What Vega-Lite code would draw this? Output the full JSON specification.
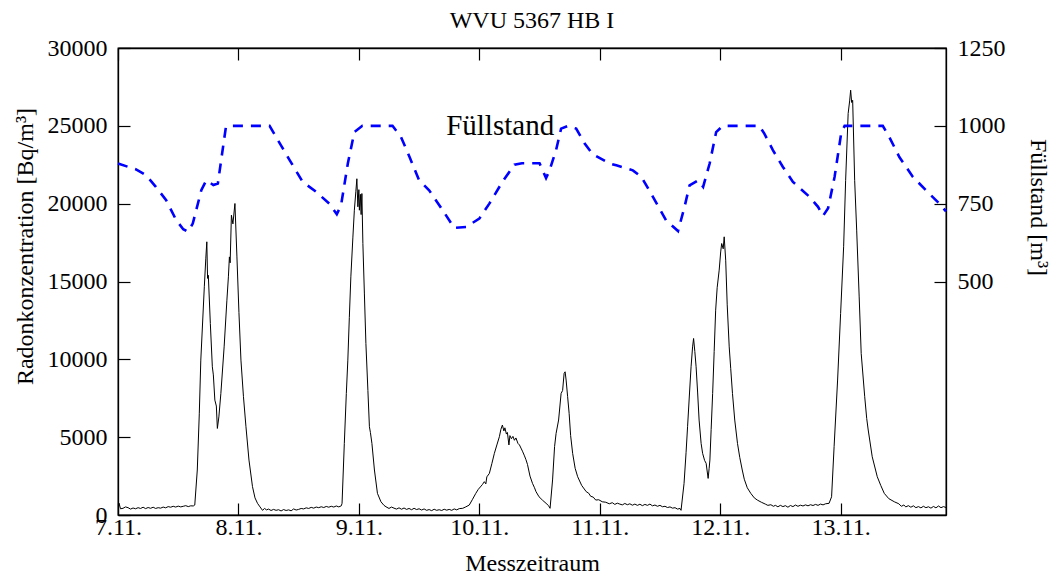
{
  "$schema": "https://vega.github.io/schema/vega-lite/v6.json",
  "width": 828,
  "height": 467,
  "autosize": "none",
  "padding": {"left": 118, "top": 48, "right": 111, "bottom": 64},
  "background": "white",
  "title": {"text": "WVU 5367 HB I", "font": "Liberation Serif", "fontSize": 24, "fontWeight": "normal", "color": "black", "offset": 3, "anchor": "middle"},
  "config": {
    "font": "Liberation Serif",
    "view": {"stroke": "black", "strokeWidth": 1.3},
    "axis": {
      "grid": false,
      "domainColor": "black",
      "domainWidth": 1.3,
      "tickColor": "black",
      "tickWidth": 1.2,
      "tickSize": -12,
      "labelFont": "Liberation Serif",
      "labelFontSize": 24,
      "labelColor": "black",
      "titleFont": "Liberation Serif",
      "titleFontSize": 24,
      "titleFontWeight": "normal",
      "titleColor": "black",
      "labelFlush": false
    }
  },
  "datasets": {
    "radon": [
      {"t": 0, "radon": 250}, {"t": 0.2, "radon": 760}, {"t": 0.5, "radon": 400}, {"t": 1, "radon": 430}, {"t": 1.5, "radon": 520}, {"t": 2, "radon": 470}, {"t": 2.5, "radon": 380}, {"t": 3, "radon": 450}, {"t": 3.5, "radon": 400}, {"t": 4, "radon": 470}, {"t": 4.5, "radon": 420}, {"t": 5, "radon": 500}, {"t": 5.5, "radon": 410}, {"t": 6, "radon": 480}, {"t": 6.5, "radon": 430}, {"t": 7, "radon": 500}, {"t": 7.5, "radon": 420}, {"t": 8, "radon": 470}, {"t": 8.5, "radon": 440}, {"t": 9, "radon": 510}, {"t": 9.5, "radon": 460}, {"t": 10, "radon": 540}, {"t": 10.5, "radon": 500}, {"t": 11, "radon": 560}, {"t": 11.5, "radon": 510}, {"t": 12, "radon": 570}, {"t": 12.5, "radon": 520}, {"t": 13, "radon": 560}, {"t": 13.5, "radon": 600}, {"t": 14, "radon": 540}, {"t": 14.5, "radon": 590}, {"t": 15, "radon": 580}, {"t": 15.3, "radon": 640},
      {"t": 15.8, "radon": 2890}, {"t": 16.2, "radon": 6500}, {"t": 16.5, "radon": 9950}, {"t": 17.2, "radon": 14660}, {"t": 17.5, "radon": 16500}, {"t": 17.7, "radon": 17550}, {"t": 17.85, "radon": 15200}, {"t": 18.0, "radon": 15400}, {"t": 18.4, "radon": 12300}, {"t": 18.8, "radon": 9520}, {"t": 19.0, "radon": 9000}, {"t": 19.3, "radon": 7380}, {"t": 19.6, "radon": 7000}, {"t": 19.8, "radon": 5560}, {"t": 20.1, "radon": 6300}, {"t": 20.5, "radon": 7810}, {"t": 21.15, "radon": 10800}, {"t": 21.7, "radon": 13800}, {"t": 22.0, "radon": 15300}, {"t": 22.2, "radon": 16580}, {"t": 22.35, "radon": 16200}, {"t": 22.6, "radon": 19260}, {"t": 22.9, "radon": 18700}, {"t": 23.3, "radon": 20010}, {"t": 23.7, "radon": 16580}, {"t": 24.1, "radon": 13000}, {"t": 24.5, "radon": 9950}, {"t": 25.0, "radon": 7600}, {"t": 25.5, "radon": 5670}, {"t": 26.1, "radon": 3530}, {"t": 26.8, "radon": 1820}, {"t": 27.3, "radon": 1100}, {"t": 27.8, "radon": 750}, {"t": 28.3, "radon": 520}, {"t": 28.8, "radon": 300},
      {"t": 29.2, "radon": 420}, {"t": 29.6, "radon": 330}, {"t": 30, "radon": 380}, {"t": 30.5, "radon": 290}, {"t": 31, "radon": 360}, {"t": 31.5, "radon": 300}, {"t": 32, "radon": 340}, {"t": 32.5, "radon": 260}, {"t": 33, "radon": 350}, {"t": 33.5, "radon": 290}, {"t": 34, "radon": 330}, {"t": 34.5, "radon": 270}, {"t": 35, "radon": 390}, {"t": 35.5, "radon": 320}, {"t": 36, "radon": 360}, {"t": 36.5, "radon": 420}, {"t": 37, "radon": 390}, {"t": 37.5, "radon": 460}, {"t": 38, "radon": 420}, {"t": 38.5, "radon": 490}, {"t": 39, "radon": 440}, {"t": 39.5, "radon": 510}, {"t": 40, "radon": 470}, {"t": 40.5, "radon": 530}, {"t": 41, "radon": 480}, {"t": 41.5, "radon": 550}, {"t": 42, "radon": 500}, {"t": 42.5, "radon": 560}, {"t": 43, "radon": 510}, {"t": 43.5, "radon": 580}, {"t": 44, "radon": 520}, {"t": 44.5, "radon": 590},
      {"t": 44.65, "radon": 750}, {"t": 45.1, "radon": 4600}, {"t": 45.5, "radon": 7800}, {"t": 45.8, "radon": 9950}, {"t": 46.1, "radon": 12700}, {"t": 46.4, "radon": 15300}, {"t": 46.8, "radon": 17800}, {"t": 47.1, "radon": 19580}, {"t": 47.4, "radon": 20800}, {"t": 47.6, "radon": 21600}, {"t": 47.8, "radon": 19800}, {"t": 48.0, "radon": 20900}, {"t": 48.1, "radon": 19580}, {"t": 48.3, "radon": 20600}, {"t": 48.45, "radon": 19300}, {"t": 48.6, "radon": 20650}, {"t": 48.8, "radon": 17440}, {"t": 49.1, "radon": 14200}, {"t": 49.4, "radon": 11020}, {"t": 49.8, "radon": 8000}, {"t": 50.1, "radon": 5670}, {"t": 50.3, "radon": 5300}, {"t": 50.6, "radon": 4600}, {"t": 51.1, "radon": 2890}, {"t": 51.7, "radon": 1390}, {"t": 52.4, "radon": 850}, {"t": 53.0, "radon": 620}, {"t": 53.4, "radon": 530},
      {"t": 54, "radon": 420}, {"t": 54.5, "radon": 510}, {"t": 55, "radon": 440}, {"t": 55.5, "radon": 380}, {"t": 56, "radon": 460}, {"t": 56.5, "radon": 370}, {"t": 57, "radon": 450}, {"t": 57.5, "radon": 360}, {"t": 58, "radon": 420}, {"t": 58.5, "radon": 340}, {"t": 59, "radon": 430}, {"t": 59.5, "radon": 350}, {"t": 60, "radon": 400}, {"t": 60.5, "radon": 320}, {"t": 61, "radon": 390}, {"t": 61.5, "radon": 300}, {"t": 62, "radon": 350}, {"t": 62.5, "radon": 280}, {"t": 63, "radon": 370}, {"t": 63.5, "radon": 300}, {"t": 64, "radon": 340}, {"t": 64.5, "radon": 290}, {"t": 65, "radon": 370}, {"t": 65.5, "radon": 310}, {"t": 66, "radon": 360}, {"t": 66.5, "radon": 300}, {"t": 67, "radon": 390}, {"t": 67.5, "radon": 330}, {"t": 68, "radon": 410}, {"t": 68.7, "radon": 430},
      {"t": 69.3, "radon": 520}, {"t": 70.0, "radon": 640}, {"t": 70.6, "radon": 980}, {"t": 71.3, "radon": 1390}, {"t": 71.8, "radon": 1650}, {"t": 72.2, "radon": 1800}, {"t": 72.6, "radon": 1950}, {"t": 73.0, "radon": 2140}, {"t": 73.3, "radon": 2000}, {"t": 73.5, "radon": 2450}, {"t": 74.0, "radon": 2670}, {"t": 74.5, "radon": 3300}, {"t": 75.0, "radon": 3960}, {"t": 75.5, "radon": 4500}, {"t": 76.0, "radon": 5030}, {"t": 76.3, "radon": 5500}, {"t": 76.6, "radon": 5780}, {"t": 76.9, "radon": 5400}, {"t": 77.1, "radon": 5600}, {"t": 77.4, "radon": 5200}, {"t": 77.6, "radon": 5300}, {"t": 77.9, "radon": 4500}, {"t": 78.1, "radon": 5100}, {"t": 78.4, "radon": 4900}, {"t": 78.7, "radon": 5050}, {"t": 79.0, "radon": 4800}, {"t": 79.3, "radon": 4950}, {"t": 79.7, "radon": 4600}, {"t": 80.0, "radon": 4500}, {"t": 80.3, "radon": 4300}, {"t": 80.6, "radon": 4100}, {"t": 81.0, "radon": 3800}, {"t": 81.3, "radon": 3550}, {"t": 81.6, "radon": 3250}, {"t": 82.1, "radon": 2500}, {"t": 82.6, "radon": 2030}, {"t": 83.0, "radon": 1750}, {"t": 83.3, "radon": 1500}, {"t": 83.9, "radon": 1170}, {"t": 84.6, "radon": 950}, {"t": 85.3, "radon": 750}, {"t": 85.8, "radon": 600}, {"t": 86.1, "radon": 430},
      {"t": 86.6, "radon": 2250}, {"t": 87.0, "radon": 4400}, {"t": 87.3, "radon": 5240}, {"t": 87.8, "radon": 6100}, {"t": 88.3, "radon": 7810}, {"t": 88.6, "radon": 8000}, {"t": 88.9, "radon": 9100}, {"t": 89.1, "radon": 9200}, {"t": 89.3, "radon": 8670}, {"t": 89.6, "radon": 7600}, {"t": 89.9, "radon": 6530}, {"t": 90.2, "radon": 5100}, {"t": 90.6, "radon": 3960}, {"t": 91.1, "radon": 3000}, {"t": 91.6, "radon": 2460}, {"t": 92.4, "radon": 1900}, {"t": 93.3, "radon": 1500}, {"t": 93.8, "radon": 1400}, {"t": 94.2, "radon": 1200}, {"t": 94.7, "radon": 1150}, {"t": 95.2, "radon": 960}, {"t": 95.8, "radon": 980}, {"t": 96.5, "radon": 850}, {"t": 97.2, "radon": 820}, {"t": 97.9, "radon": 720},
      {"t": 98.5, "radon": 790}, {"t": 99, "radon": 680}, {"t": 99.5, "radon": 760}, {"t": 100, "radon": 700}, {"t": 100.5, "radon": 650}, {"t": 101, "radon": 740}, {"t": 101.5, "radon": 660}, {"t": 102, "radon": 720}, {"t": 102.5, "radon": 630}, {"t": 103, "radon": 700}, {"t": 103.5, "radon": 620}, {"t": 104, "radon": 690}, {"t": 104.5, "radon": 600}, {"t": 105, "radon": 680}, {"t": 105.5, "radon": 620}, {"t": 106, "radon": 700}, {"t": 106.5, "radon": 590}, {"t": 107, "radon": 640}, {"t": 107.5, "radon": 560}, {"t": 108, "radon": 620}, {"t": 108.5, "radon": 530}, {"t": 109, "radon": 560}, {"t": 109.5, "radon": 480}, {"t": 110, "radon": 520}, {"t": 110.5, "radon": 440}, {"t": 111, "radon": 470}, {"t": 111.5, "radon": 380}, {"t": 112.0, "radon": 420}, {"t": 112.2, "radon": 300},
      {"t": 112.8, "radon": 2030}, {"t": 113.2, "radon": 4000}, {"t": 113.5, "radon": 5670}, {"t": 113.9, "radon": 7900}, {"t": 114.2, "radon": 9520}, {"t": 114.5, "radon": 10800}, {"t": 114.7, "radon": 11340}, {"t": 114.95, "radon": 10500}, {"t": 115.2, "radon": 9520}, {"t": 115.5, "radon": 7900}, {"t": 115.8, "radon": 6100}, {"t": 116.2, "radon": 4600}, {"t": 116.5, "radon": 3960}, {"t": 116.9, "radon": 3500}, {"t": 117.2, "radon": 3320}, {"t": 117.6, "radon": 2350}, {"t": 117.8, "radon": 3000}, {"t": 117.95, "radon": 3530}, {"t": 118.2, "radon": 5500}, {"t": 118.5, "radon": 7810}, {"t": 118.8, "radon": 10500}, {"t": 119.1, "radon": 13160}, {"t": 119.4, "radon": 14600}, {"t": 119.8, "radon": 15730}, {"t": 120.1, "radon": 16900}, {"t": 120.3, "radon": 17440}, {"t": 120.6, "radon": 17100}, {"t": 120.8, "radon": 17870}, {"t": 121.1, "radon": 16370}, {"t": 121.4, "radon": 13500}, {"t": 121.8, "radon": 10800}, {"t": 122.1, "radon": 9400}, {"t": 122.45, "radon": 7810}, {"t": 122.9, "radon": 6100}, {"t": 123.45, "radon": 4600}, {"t": 123.9, "radon": 3700}, {"t": 124.4, "radon": 2890}, {"t": 124.8, "radon": 2300}, {"t": 125.4, "radon": 1750}, {"t": 126.1, "radon": 1390}, {"t": 126.8, "radon": 1100}, {"t": 127.4, "radon": 960}, {"t": 128.2, "radon": 820}, {"t": 129, "radon": 700},
      {"t": 129.5, "radon": 620}, {"t": 130.1, "radon": 660}, {"t": 130.6, "radon": 560}, {"t": 131, "radon": 620}, {"t": 131.5, "radon": 530}, {"t": 132, "radon": 620}, {"t": 132.5, "radon": 540}, {"t": 133, "radon": 600}, {"t": 133.5, "radon": 500}, {"t": 134, "radon": 610}, {"t": 134.5, "radon": 540}, {"t": 135, "radon": 640}, {"t": 135.5, "radon": 560}, {"t": 136, "radon": 630}, {"t": 136.5, "radon": 580}, {"t": 137, "radon": 650}, {"t": 137.5, "radon": 590}, {"t": 138, "radon": 660}, {"t": 138.5, "radon": 610}, {"t": 139, "radon": 680}, {"t": 139.5, "radon": 620}, {"t": 140, "radon": 700}, {"t": 140.5, "radon": 650}, {"t": 141, "radon": 720}, {"t": 141.7, "radon": 750},
      {"t": 142.2, "radon": 1170}, {"t": 142.7, "radon": 4390}, {"t": 143.4, "radon": 8670}, {"t": 144.0, "radon": 12950}, {"t": 144.6, "radon": 17230}, {"t": 145.0, "radon": 21500}, {"t": 145.5, "radon": 25790}, {"t": 145.8, "radon": 26600}, {"t": 146.0, "radon": 27290}, {"t": 146.2, "radon": 26500}, {"t": 146.4, "radon": 26640}, {"t": 146.8, "radon": 21500}, {"t": 147.2, "radon": 18300}, {"t": 147.7, "radon": 14010}, {"t": 148.1, "radon": 10380}, {"t": 148.8, "radon": 7600}, {"t": 149.2, "radon": 6200}, {"t": 149.5, "radon": 5460}, {"t": 150.3, "radon": 3740}, {"t": 151.3, "radon": 2460}, {"t": 152.0, "radon": 1900}, {"t": 152.7, "radon": 1390}, {"t": 153.6, "radon": 1050}, {"t": 154.7, "radon": 850}, {"t": 155.6, "radon": 720},
      {"t": 156.1, "radon": 560}, {"t": 156.6, "radon": 640}, {"t": 157, "radon": 520}, {"t": 157.5, "radon": 600}, {"t": 158, "radon": 500}, {"t": 158.5, "radon": 590}, {"t": 159, "radon": 470}, {"t": 159.5, "radon": 540}, {"t": 160, "radon": 460}, {"t": 160.5, "radon": 560}, {"t": 161, "radon": 470}, {"t": 161.5, "radon": 530}, {"t": 162, "radon": 440}, {"t": 162.5, "radon": 550}, {"t": 163, "radon": 460}, {"t": 163.5, "radon": 580}, {"t": 164, "radon": 470}, {"t": 164.5, "radon": 540}, {"t": 165, "radon": 480}
    ],
    "level": [
      {"t": 0, "level": 879}, {"t": 3.6, "level": 860}, {"t": 5.6, "level": 841}, {"t": 7.5, "level": 805}, {"t": 9.6, "level": 761}, {"t": 11.6, "level": 697}, {"t": 13.0, "level": 668}, {"t": 13.9, "level": 660}, {"t": 14.9, "level": 686}, {"t": 16.6, "level": 793}, {"t": 17.6, "level": 825}, {"t": 19.0, "level": 810}, {"t": 19.9, "level": 815}, {"t": 21.5, "level": 996}, {"t": 22.2, "level": 1000}, {"t": 30.2, "level": 1000}, {"t": 31.5, "level": 964}, {"t": 34.2, "level": 890}, {"t": 36.8, "level": 820}, {"t": 39.5, "level": 788}, {"t": 42.1, "level": 750}, {"t": 43.6, "level": 716}, {"t": 44.45, "level": 745}, {"t": 45.8, "level": 879}, {"t": 47.1, "level": 980}, {"t": 48.7, "level": 1000}, {"t": 54.7, "level": 1000}, {"t": 56.4, "level": 964}, {"t": 58.1, "level": 900}, {"t": 60.0, "level": 825}, {"t": 62.0, "level": 793}, {"t": 64.7, "level": 729}, {"t": 67.0, "level": 672}, {"t": 69.35, "level": 675}, {"t": 72.0, "level": 702}, {"t": 74.0, "level": 750}, {"t": 76.6, "level": 820}, {"t": 79.0, "level": 875}, {"t": 80.5, "level": 880}, {"t": 84.0, "level": 880}, {"t": 85.3, "level": 832}, {"t": 86.0, "level": 857}, {"t": 87.3, "level": 922}, {"t": 88.3, "level": 991}, {"t": 89.7, "level": 1000}, {"t": 91.3, "level": 991}, {"t": 93.0, "level": 943}, {"t": 94.6, "level": 909}, {"t": 98.0, "level": 879}, {"t": 99.3, "level": 873}, {"t": 102.6, "level": 857}, {"t": 104.3, "level": 836}, {"t": 106.6, "level": 772}, {"t": 109.2, "level": 697}, {"t": 111.6, "level": 662}, {"t": 112.9, "level": 740}, {"t": 113.9, "level": 809}, {"t": 115.6, "level": 825}, {"t": 116.6, "level": 804}, {"t": 117.9, "level": 879}, {"t": 119.2, "level": 980}, {"t": 120.5, "level": 1000}, {"t": 127.8, "level": 1000}, {"t": 128.8, "level": 975}, {"t": 130.5, "level": 922}, {"t": 132.5, "level": 868}, {"t": 134.5, "level": 820}, {"t": 137.8, "level": 772}, {"t": 139.5, "level": 740}, {"t": 140.5, "level": 711}, {"t": 141.5, "level": 735}, {"t": 142.8, "level": 836}, {"t": 144.1, "level": 975}, {"t": 144.8, "level": 1000}, {"t": 152.4, "level": 1000}, {"t": 153.7, "level": 964}, {"t": 155.7, "level": 900}, {"t": 158.4, "level": 836}, {"t": 161.0, "level": 793}, {"t": 163.7, "level": 750}, {"t": 165, "level": 725}
    ],
    "label": [
      {"t": 65.4, "level": 1000, "name": "Füllstand"}
    ]
  },
  "layer": [
    {
      "data": {"name": "radon"},
      "mark": {"type": "line", "color": "black", "strokeWidth": 1, "clip": true},
      "encoding": {
        "x": {
          "field": "t", "type": "quantitative",
          "scale": {"domain": [0, 165], "nice": false, "zero": false},
          "axis": {"orient": "bottom", "values": [0, 24, 48, 72, 96, 120, 144], "labelExpr": "(7 + datum.value / 24) + '.11.'", "labelPadding": 12, "title": "Messzeitraum", "titlePadding": 12}
        },
        "y": {
          "field": "radon", "type": "quantitative",
          "scale": {"domain": [0, 30000], "nice": false},
          "axis": {"orient": "left", "values": [0, 5000, 10000, 15000, 20000, 25000, 30000], "format": "d", "labelPadding": 23, "title": "Radonkonzentration [Bq/m³]", "titlePadding": 10, "titleY": 198}
        }
      }
    },
    {
      "encoding": {
        "x": {
          "field": "t", "type": "quantitative",
          "scale": {"domain": [0, 165], "nice": false, "zero": false},
          "axis": {"orient": "top", "values": [0, 24, 48, 72, 96, 120, 144], "labels": false, "title": null}
        },
        "y": {
          "field": "level", "type": "quantitative",
          "scale": {"domain": [-250, 1250], "nice": false, "zero": false},
          "axis": {"orient": "right", "values": [500, 750, 1000, 1250], "format": "d", "labelPadding": 23, "title": "Füllstand [m³]", "titlePadding": 20, "titleY": 159}
        }
      },
      "layer": [
        {
          "data": {"name": "level"},
          "mark": {"type": "line", "color": "#0000ff", "strokeWidth": 2.6, "strokeDash": [10, 8]}
        },
        {
          "data": {"name": "label"},
          "mark": {"type": "text", "align": "left", "baseline": "middle", "font": "Liberation Serif", "fontSize": 29, "color": "black"},
          "encoding": {"text": {"field": "name"}}
        }
      ]
    }
  ],
  "resolve": {"scale": {"y": "independent"}, "axis": {"x": "independent"}}
}
